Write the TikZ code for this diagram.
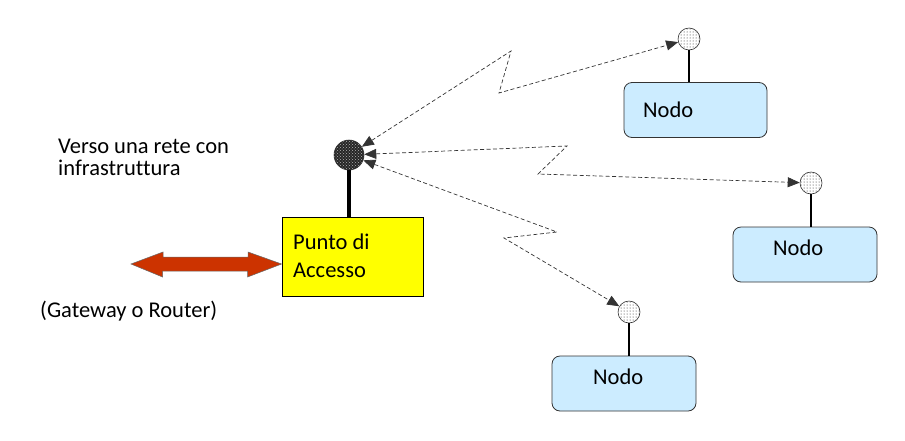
\documentclass[tikz,border=0pt]{standalone}
\usepackage{fontspec}
\setmainfont{Carlito}[Ligatures=NoCommon]
\usetikzlibrary{arrows.meta,patterns}

\definecolor{apyellow}{HTML}{FFFF00}
\definecolor{nodeblue}{HTML}{CCECFF}
\definecolor{linkred}{HTML}{CC3300}

\tikzset{
  txt/.style={inner sep=0pt, anchor=base west, font=\fontsize{22.5}{23}\selectfont},
  radio/.style={black!80, line width=0.7pt, dash pattern=on 4pt off 2.5pt,
    {Triangle[length=12pt,width=10pt]}-{Triangle[length=12pt,width=10pt]}},
  nodebox/.style={draw=black!80, fill=nodeblue, rounded corners=8pt, line width=0.8pt,
    minimum width=144pt, minimum height=55pt},
  antenna/.style={circle, draw=black!80, line width=0.6pt, minimum size=22pt, inner sep=0pt,
    preaction={fill=white}, pattern=dots, pattern color=black!90}
}

\begin{document}
\begin{tikzpicture}[x=1pt,y=-1pt]
        \useasboundingbox (0,0) rectangle (905,440);

        % Access point
        \node[draw=black, fill=apyellow, line width=0.9pt, minimum width=141pt, minimum height=79pt] (ap) at (352.5,256.5) {};
        \node[circle, draw=black!80, line width=0.6pt, minimum size=30pt, inner sep=0pt,
          preaction={fill=black!85}, pattern=crosshatch dots, pattern color=white!70!black] (apc) at (349,155) {};
        \draw[line width=4pt] (apc.south) -- (apc.south |- ap.north);

        % The three nodes
        \node[nodebox, minimum width=143pt] (box1) at (695.5,110) {};
        \node[nodebox] (box2) at (805,254.5) {};
        \node[nodebox] (box3) at (624,383.5) {};
        \node[antenna] (n1c) at (689,39) {};
        \node[antenna] (n2c) at (811,183) {};
        \node[antenna] (n3c) at (629,312) {};
        \draw[line width=1.6pt] (n1c.south) -- (n1c.south |- box1.north);
        \draw[line width=1.6pt] (n2c.south) -- (n2c.south |- box2.north);
        \draw[line width=1.6pt] (n3c.south) -- (n3c.south |- box3.north);

        % Zigzag points of the radio links
        \coordinate (z1a) at (511,51);
        \coordinate (z1b) at (499,93);
        \coordinate (z2a) at (567,146);
        \coordinate (z2b) at (538,174);
        \coordinate (z3a) at (557,232);
        \coordinate (z3b) at (504,238);

        % Radio links
        \draw[radio] (apc) -- (z1a) -- (z1b) -- (n1c);
        \draw[radio] (apc) -- (z2a) -- (z2b) -- (n2c);
        \draw[radio] (apc) -- (z3a) -- (z3b) -- (n3c);

        % Wired link to the gateway
        \coordinate (gwL) at (131,264);
        \coordinate (gwR) at (ap.west |- gwL);
        \filldraw[fill=linkred, draw=black!60, line width=0.5pt]
          (gwL) -- ++(32,-12) -- ++(0,5) -- ++(85,0) -- ++(0,-5) -- (gwR)
          -- ++(-34,13) -- ++(0,-6) -- ++(-85,0) -- ++(0,6) -- cycle;

        % Labels
        \node[txt] (verso) at (58,153) {Verso una rete con};
        \node[txt] (infra) at (58,175) {infrastruttura};
        \node[txt] (gw) at (40,317) {(Gateway o Router)};
        \node[txt] (punto) at (293,249) {Punto di};
        \node[txt] (accesso) at (293,277) {Accesso};
        \node[txt] (nodo1) at (643,117) {Nodo};
        \node[txt] (nodo2) at (773,255) {Nodo};
        \node[txt] (nodo3) at (593,384) {Nodo};
\end{tikzpicture}
\end{document}
